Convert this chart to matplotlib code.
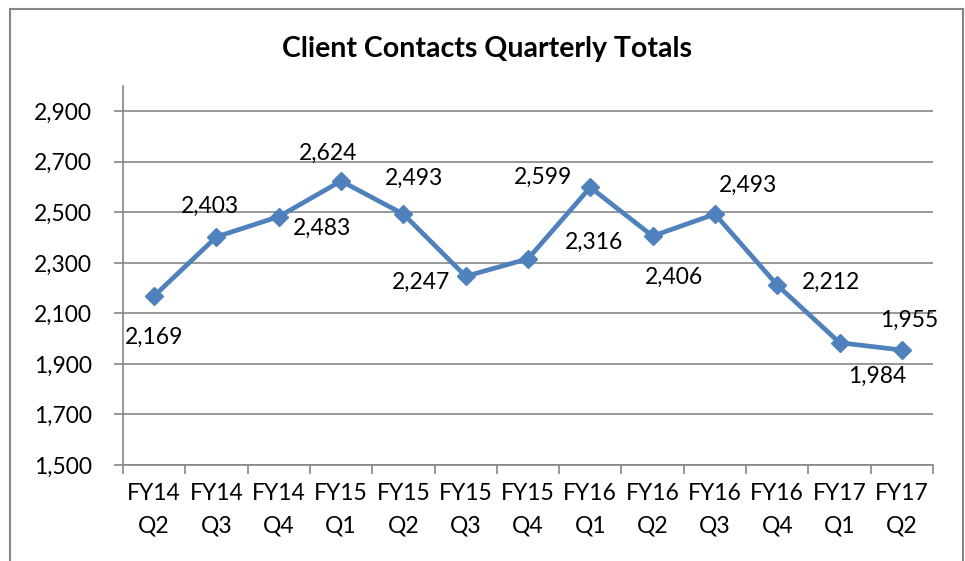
import matplotlib
matplotlib.use('Agg')
import matplotlib.pyplot as plt
import numpy as np
from matplotlib.patches import Rectangle

# Chart data
quarters = ['FY14\nQ2', 'FY14\nQ3', 'FY14\nQ4', 'FY15\nQ1', 'FY15\nQ2', 'FY15\nQ3', 'FY15\nQ4',
            'FY16\nQ1', 'FY16\nQ2', 'FY16\nQ3', 'FY16\nQ4', 'FY17\nQ1', 'FY17\nQ2']
contacts = [2169, 2403, 2483, 2624, 2493, 2247, 2316, 2599, 2406, 2493, 2212, 1984, 1955]
y_ticks = [1500, 1700, 1900, 2100, 2300, 2500, 2700, 2900]

# label offsets in pixels (dx right, dy down), as placed in the original
label_px = [(0, 41), (-7, -30), (43, 12), (-13, -28), (11, -36), (-45, 6), (66, -16),
            (-47, -10), (21, 41), (33, -29), (54, -3), (38, 34), (7, -30)]

plt.rcParams['font.family'] = ['Lato', 'DejaVu Sans']

fig = plt.figure(figsize=(9.65, 5.61), dpi=100)
ax = fig.add_axes([123 / 965, 1 - 465 / 561, (933 - 123) / 965, (465 - 86) / 561])

blue = '#4F81BD'
grey = '#868686'
fs = 16.5

x = np.arange(len(quarters))
ax.plot(x, contacts, color=blue, lw=3.4, marker='D', markersize=9.5, zorder=3)

for xi, v, (dx, dy) in zip(x, contacts, label_px):
    ax.annotate(f'{v:,}', (xi, v), xytext=(dx * 0.72, -dy * 0.72), textcoords='offset points',
                ha='center', va='center', fontsize=fs, color='black')

ax.set_xlim(-0.5, len(quarters) - 0.5)
ax.set_ylim(1500, 3000)
ax.set_yticks(y_ticks)
ax.set_yticklabels([f'{t:,}' for t in y_ticks])
ax.set_xticks(x)
ax.set_xticklabels(quarters, linespacing=1.65)
ax.set_xticks(np.arange(len(quarters) + 1) - 0.5, minor=True)

ax.grid(axis='y', color=grey, lw=1.2)
ax.set_axisbelow(True)
for s in ['top', 'right']:
    ax.spines[s].set_visible(False)
for s in ['left', 'bottom']:
    ax.spines[s].set_color(grey)
    ax.spines[s].set_linewidth(1.2)

ax.tick_params(axis='y', length=6.5, width=1.2, color=grey, pad=16, labelsize=fs)
ax.tick_params(axis='x', which='major', length=0, pad=13, labelsize=fs)
ax.tick_params(axis='x', which='minor', length=6.5, width=1.2, color=grey)

fig.text(487 / 965, 1 - 49 / 561, 'Client Contacts Quarterly Totals', ha='center', va='center',
         fontsize=20.5, fontweight='bold')

# outer chart frame
fig.patches.append(Rectangle((10 / 965, -0.1), (963 - 10) / 965, 1.1 - 9 / 561,
                             transform=fig.transFigure, fill=False, edgecolor=grey, lw=1.5))

fig.savefig('out.png', dpi=100)
